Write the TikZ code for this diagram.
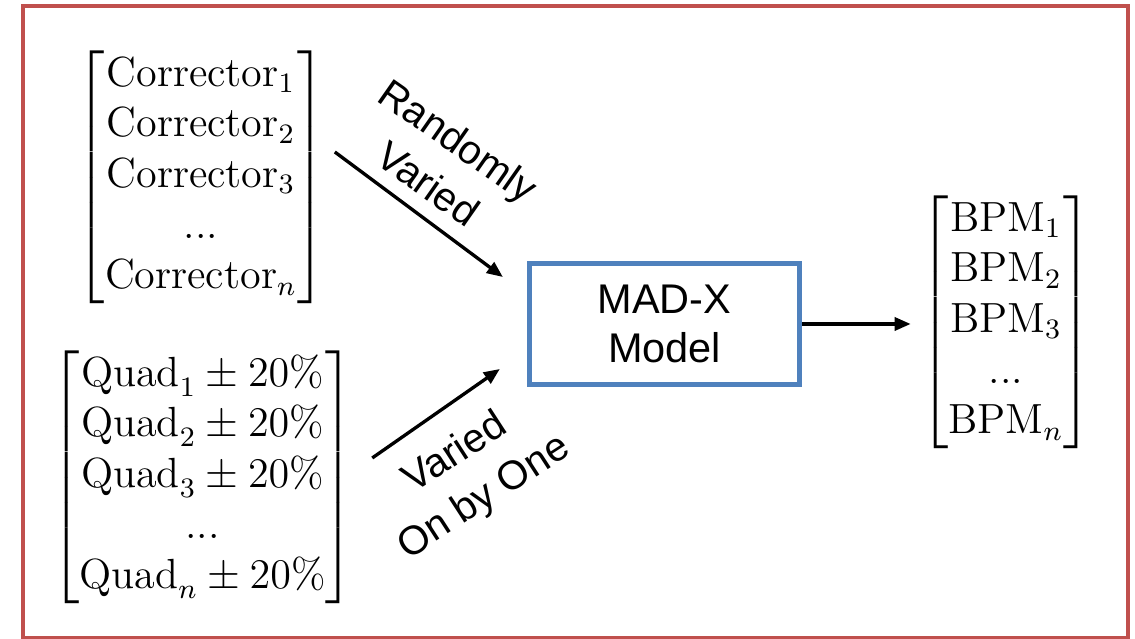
\documentclass[tikz,border=0pt]{standalone}
\usepackage{amsmath}
\usepackage{fontspec}
\setsansfont{Liberation Sans}
\usetikzlibrary{arrows.meta}
\definecolor{framered}{HTML}{C0504D}
\definecolor{boxblue}{HTML}{4F81BD}

\begin{document}
\begin{tikzpicture}[
    mat/.style = {inner sep=0pt, font=\fontsize{12}{14.4}\selectfont},
    model/.style = {shape=rectangle, draw=boxblue, line width=1.5pt,
      minimum width=2.70cm, minimum height=1.21cm, align=center,
      font=\sffamily\fontsize{11.8}{13.9}\selectfont},
    lab/.style = {align=center, font=\sffamily\fontsize{11.5}{15}\selectfont},
    arr/.style = {-{Triangle[length=0.16cm,width=0.13cm]}, line width=0.95pt}]
    \useasboundingbox (0,0) rectangle (11.35,6.39);
    \draw[framered, line width=1.15pt] (0.23,0.01) rectangle (11.28,6.33);
    \node[mat] (corr) at (2.01,4.615) {$\begin{bmatrix}
        \text{Corrector}_1\\ \text{Corrector}_2\\ \text{Corrector}_3\\
        \text{...}\\ \text{Corrector}_n\end{bmatrix}$};
    \node[mat] (quad) at (2.025,1.615) {$\begin{bmatrix}
        \text{Quad}_1\pm 20\%\\ \text{Quad}_2\pm 20\%\\ \text{Quad}_3\pm 20\%\\
        \text{...}\\ \text{Quad}_n\pm 20\%\end{bmatrix}$};
    \node[model] (madx) at (6.645,3.15) {MAD-X\\Model};
    \node[mat] (bpm) at (10.06,3.165) {$\begin{bmatrix}
        \text{BPM}_1\\ \text{BPM}_2\\ \text{BPM}_3\\
        \text{...}\\ \text{BPM}_n\end{bmatrix}$};
    \node[lab, rotate=-35] (rand) at (4.435,4.77) {Randomly\\Varied};
    \node[lab, rotate=33] (one) at (4.70,1.63) {Varied\\On by One};
    \draw[arr] ([shift={(0.09,0.255)}]corr.east) -- ([shift={(-0.24,0.47)}]madx.west);
    \draw[arr] ([shift={(0.18,0.195)}]quad.east) -- ([shift={(-0.27,-0.45)}]madx.west);
    \draw[arr, shorten >=0.09cm] (madx.east) -- (madx.east -| bpm.west);
\end{tikzpicture}
\end{document}
